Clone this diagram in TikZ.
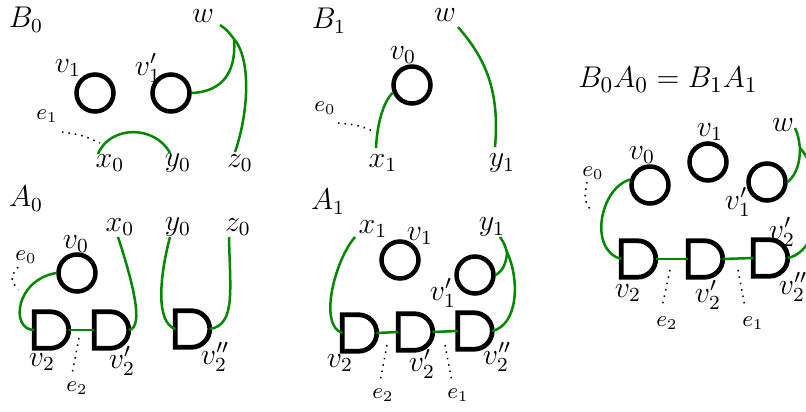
\documentclass[tikz,border=0pt]{standalone}
\usepackage{tikz}
\usetikzlibrary{arrows.meta,calc}
\usepackage{xcolor}
\definecolor{wiregreen}{RGB}{0,135,0}
\definecolor{ink}{RGB}{0,0,0}
\tikzset{
  vtx/.style={circle,draw=ink,line width=1.8pt,minimum size=14.8pt,inner sep=0pt},
  gatebox/.style={rectangle,minimum width=13.8pt,minimum height=14.6pt,inner sep=0pt,outer sep=0pt},
  wire/.style={wiregreen,line width=1pt},
  leg/.style={ink,dotted,line width=0.6pt},
  lbl/.style={font=\large,inner sep=1pt},
  elbl/.style={font=\small,inner sep=1pt},
}
\newcommand{\dgate}[3]{% name x y
  \node[gatebox] (#1) at (#2,#3) {};
  \draw[ink,line width=1.9pt] (#1.north west) -- (#1.south west) -- ++(6.5pt,0)
    arc[start angle=-90,end angle=90,radius=7.3pt] -- cycle;
}

\begin{document}
\begin{tikzpicture}[x=0.4pt,y=-0.4pt]
  \useasboundingbox (0,0) rectangle (806,412);
  % panel titles
  \foreach \n/\x/\y/\t in {B0/26/20/$B_0$,A0/26/199/$A_0$,B1/329/21/$B_1$,A1/328/202/$A_1$}
    \node[font=\large,inner sep=1pt] (\n) at (\x,\y) {\t};
  \node[font=\fontsize{12.8}{15}\selectfont,inner sep=1pt] (prod) at (668,80) {$B_0A_0=B_1A_1$};

  % vertices
  \foreach \n/\x/\y in {b0v1/95/93,b0v1p/171/93,a0v0/77/273,b1v0/412/85,
      a1v1/400/260,a1v1p/475/275,cv0/650/185,cv1/708/162,cv1p/767/182}
    \node[vtx] (\n) at (\x,\y) {};
  \dgate{a0g2}{51.5}{330}
  \dgate{a0g2p}{111.5}{330}
  \dgate{a0g2pp}{192.5}{329}
  \dgate{a1g2}{359.5}{333}
  \dgate{a1g2p}{415.5}{332}
  \dgate{a1g2pp}{475}{331}
  \dgate{cg2}{638.5}{259}
  \dgate{cg2p}{705.5}{259}
  \dgate{cg2pp}{770.5}{258}

  % labels
  \foreach \n/\x/\y/\t in {b0w/203/16/$w$,b0v1l/68/68/$v_1$,b0v1pl/148/68/$v_1'$,
      b0x/110/163/$x_0$,b0y/178/163/$y_0$,b0z/240/163/$z_0$,
      a0x/120/227/$x_0$,a0y/178/227/$y_0$,a0z/238/227/$z_0$,a0v0l/76/244/$v_0$,
      a0v2l/42/362/$v_2$,a0v2pl/122/361/$v_2'$,a0v2ppl/215/357/$v_2''$,
      b1w/445/15/$w$,b1v0l/403/55/$v_0$,b1x/383/163/$x_1$,b1y/502/163/$y_1$,
      a1x/373/229/$x_1$,a1v1l/420/236/$v_1$,a1y/492/227/$y_1$,a1v1pl/443/293/$v_1'$,
      a1v2l/340/363/$v_2$,a1v2pl/422/364/$v_2'$,a1v2ppl/497/357/$v_2''$,
      cv1l/710/132/$v_1$,cv0l/642/155/$v_0$,cw/783/125/$w$,cv1pl/738/202/$v_1'$,
      cv2l/628/293/$v_2$,cv2pl/708/295/$v_2'$,cv2ppl/793/287/$v_2''$,cv2ptl/782/232/$v_2'$}
    \node[lbl] (\n) at (\x,\y) {\t};
  \foreach \n/\x/\y/\t in {b0e1/47/116/$e_1$,a0e0/26/257/$e_0$,a0e2/77/388/$e_2$,
      b1e0/325/108/$e_0$,a1e2/383/395/$e_2$,a1e1/458/395/$e_1$,
      ce0/593/173/$e_0$,ce2/667/323/$e_2$,ce1/753/323/$e_1$}
    \node[elbl] (\n) at (\x,\y) {\t};

  % B_0
  \coordinate (b0wend) at (220,25);
  \coordinate (b0j) at (234,39);
  \coordinate (b0zend) at (235,152);
  \coordinate (b0xend) at (98,154);
  \coordinate (b0yend) at (170,153);
  \draw[wire] (b0wend) .. controls (227,30) .. (b0j);
  \draw[wire] (b0j) .. controls (237,80) and (215,92) .. (b0v1p.east);
  \draw[wire] (b0j) .. controls (252,60) and (248,115) .. (b0zend);
  \draw[wire] (b0xend) .. controls (110,125) and (155,125) .. (b0yend);
  \coordinate (b0e1s) at (62,132);
  \coordinate (b0e1t) at (100,143);
  \draw[leg] (b0e1s) .. controls (82,135) .. (b0e1t);

  % A_0
  \coordinate (a0xend) at (118,237);
  \coordinate (a0yend) at (170,237);
  \coordinate (a0zend) at (229,237);
  \draw[wire] (a0v0.west) .. controls (15,280) and (10,330) .. (a0g2.west);
  \draw[wire] (a0g2.east) -- (a0g2p.west);
  \draw[wire] (a0xend) .. controls (132,280) and (145,328) .. (a0g2p.east);
  \draw[wire] (a0yend) .. controls (160,275) and (155,322) .. (a0g2pp.west);
  \draw[wire] (a0zend) .. controls (230,290) and (236,325) .. (a0g2pp.east);
  \coordinate (a0e0s) at (18,267);
  \coordinate (a0e0t) at (18,290);
  \draw[leg] (a0e0s) .. controls (10,278) .. (a0e0t);
  \coordinate (a0e2s) at (79,338);
  \coordinate (a0e2t) at (72,374);
  \draw[leg] (a0e2s) -- (a0e2t);

  % B_1
  \coordinate (b1xend) at (376,148);
  \coordinate (b1wend) at (458,27);
  \coordinate (b1yend) at (495,147);
  \draw[wire] (b1v0.202) .. controls (383,102) and (377,125) .. (b1xend);
  \draw[wire] (b1wend) .. controls (485,58) and (500,90) .. (b1yend);
  \coordinate (b1e0s) at (338,123);
  \coordinate (b1e0t) at (375,132);
  \draw[leg] (b1e0s) .. controls (358,125) .. (b1e0t);

  % A_1
  \coordinate (a1xend) at (355,237);
  \coordinate (a1yend) at (500,237);
  \coordinate (a1j) at (507,252);
  \draw[wire] (a1xend) .. controls (335,260) and (318,325) .. (a1g2.west);
  \draw[wire] (a1g2.east) -- (a1g2p.west);
  \draw[wire] (a1g2p.east) -- (a1g2pp.west);
  \draw[wire] (a1yend) .. controls (504,243) .. (a1j);
  \draw[wire] (a1j) .. controls (506,270) and (498,273) .. (a1v1p.east);
  \draw[wire] (a1j) .. controls (520,280) and (518,325) .. (a1g2pp.east);
  \coordinate (a1e2s) at (387,345);
  \coordinate (a1e2t) at (380,382);
  \coordinate (a1e1s) at (445,345);
  \coordinate (a1e1t) at (452,382);
  \draw[leg] (a1e2s) -- (a1e2t);
  \draw[leg] (a1e1s) -- (a1e1t);

  % B_0A_0 = B_1A_1
  \coordinate (cwend) at (795,128);
  \coordinate (cj) at (800,148);
  \draw[wire] (cv0.165) .. controls (600,188) and (588,250) .. (cg2.west);
  \draw[wire] (cg2.east) -- (cg2p.west);
  \draw[wire] (cg2p.east) -- (cg2pp.west);
  \draw[wire] (cwend) .. controls (798,135) .. (cj);
  \draw[wire] (cj) .. controls (800,170) and (792,178) .. (cv1p.east);
  \draw[wire] (cj) .. controls (825,175) and (825,250) .. (cg2pp.east);
  \coordinate (ce0s) at (587,182);
  \coordinate (ce0t) at (592,212);
  \draw[leg] (ce0s) .. controls (584,200) .. (ce0t);
  \coordinate (ce2s) at (670,270);
  \coordinate (ce2t) at (662,307);
  \coordinate (ce1s) at (738,270);
  \coordinate (ce1t) at (745,307);
  \draw[leg] (ce2s) -- (ce2t);
  \draw[leg] (ce1s) -- (ce1t);
\end{tikzpicture}
\end{document}
